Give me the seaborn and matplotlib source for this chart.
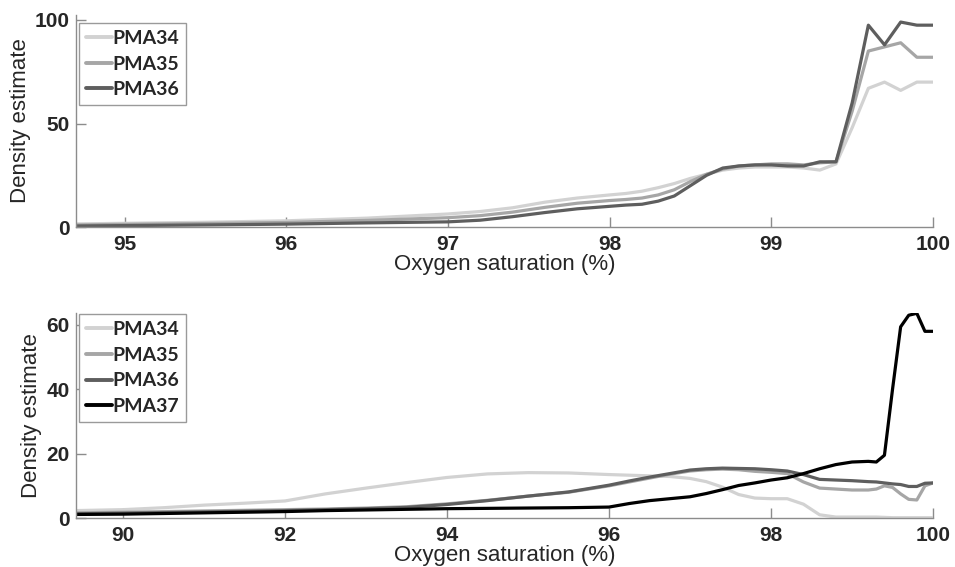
import numpy as np
import pandas as pd
import matplotlib
matplotlib.use("Agg")
import matplotlib.pyplot as plt
import seaborn as sns

# ---------------- data ----------------
top_x = [94.7, 95.0, 95.5, 96.0, 96.5, 97.0, 97.2, 97.4, 97.6, 97.8, 98.0, 98.1, 98.2,
         98.3, 98.4, 98.5, 98.6, 98.7, 98.8, 98.9, 99.0, 99.1, 99.2, 99.3, 99.4, 99.5,
         99.6, 99.7, 99.8, 99.9, 100.0]
top_pma34 = [1.5, 1.8, 2.3, 3.0, 4.3, 6.3, 7.5, 9.3, 12.0, 14.0, 15.5, 16.2, 17.3, 19.0,
             21.0, 23.5, 25.5, 27.5, 28.5, 29.0, 29.0, 29.0, 28.5, 27.5, 30.5, 48.0, 67.0,
             70.0, 66.0, 70.0, 70.0]
top_pma35 = [1.0, 1.3, 1.7, 2.2, 3.2, 4.5, 5.5, 7.2, 9.5, 11.5, 12.8, 13.3, 14.0, 15.5,
             18.0, 22.0, 25.5, 28.0, 29.5, 30.0, 30.5, 30.5, 30.0, 31.0, 31.5, 56.0, 85.0,
             87.0, 89.0, 82.0, 82.0]
top_pma36 = [0.5, 0.7, 1.0, 1.4, 2.0, 2.5, 3.3, 5.0, 7.0, 8.8, 10.0, 10.6, 11.0, 12.5,
             15.0, 20.0, 25.0, 28.5, 29.5, 30.0, 30.0, 29.5, 29.5, 31.5, 31.5, 60.0, 97.5,
             88.0, 99.0, 97.5, 97.5]

bot_x = [89.4, 90.0, 90.5, 91.0, 91.5, 92.0, 92.5, 93.0, 93.5, 94.0, 94.5, 95.0, 95.5,
         96.0, 96.25, 96.5, 96.75, 97.0, 97.2, 97.4, 97.6, 97.8, 98.0, 98.2, 98.4, 98.6,
         98.8, 99.0, 99.2, 99.3, 99.4, 99.5, 99.6, 99.7, 99.8, 99.9, 100.0]
bot_pma34 = [2.3, 2.6, 3.2, 4.0, 4.6, 5.3, 7.5, 9.3, 11.0, 12.6, 13.7, 14.1, 14.0, 13.5,
             13.3, 13.1, 12.9, 12.3, 11.3, 9.6, 7.3, 6.2, 6.0, 6.0, 4.3, 1.0, 0.3, 0.3,
             0.3, 0.3, 0.2, 0.1, 0.1, 0.1, 0.1, 0.1, 0.1]
bot_pma35 = [1.6, 1.8, 2.0, 2.2, 2.4, 2.6, 2.8, 3.1, 3.5, 4.4, 5.5, 6.8, 8.0, 10.0, 11.2,
             12.4, 13.6, 14.6, 15.0, 15.2, 15.0, 14.5, 14.2, 13.8, 11.2, 9.3, 9.0, 8.7,
             8.7, 9.0, 10.0, 9.5, 7.5, 5.8, 5.6, 10.0, 10.9]
bot_pma36 = [1.3, 1.5, 1.7, 1.9, 2.1, 2.3, 2.6, 2.9, 3.3, 4.2, 5.4, 6.8, 8.1, 10.2, 11.5,
             12.7, 13.8, 14.9, 15.3, 15.5, 15.4, 15.3, 15.0, 14.6, 13.5, 12.0, 11.8, 11.6,
             11.3, 11.2, 10.9, 10.6, 10.4, 9.8, 9.8, 10.8, 10.9]
bot_pma37 = [1.1, 1.2, 1.4, 1.6, 1.8, 2.0, 2.3, 2.5, 2.7, 2.9, 3.0, 3.1, 3.2, 3.4, 4.5,
             5.4, 6.0, 6.6, 7.6, 8.8, 10.1, 10.9, 11.8, 12.5, 13.8, 15.3, 16.6, 17.4,
             17.6, 17.4, 19.5, 40.0, 59.4, 63.0, 63.6, 58.0, 58.0]

top_labels = ["PMA34", "PMA35", "PMA36"]
bot_labels = ["PMA34", "PMA35", "PMA36", "PMA37"]
top_xticks = [95, 96, 97, 98, 99, 100]
top_yticks = [0, 50, 100]
bot_xticks = [90, 92, 94, 96, 98, 100]
bot_yticks = [0, 20, 40, 60]

colors = {"PMA34": "#d2d2d2", "PMA35": "#a6a6a6", "PMA36": "#5e5e5e", "PMA37": "#000000"}

# ---------------- build long tables ----------------
def long_df(x, series, labels):
    frames = [pd.DataFrame({"x": x, "y": s, "group": lab}) for s, lab in zip(series, labels)]
    return pd.concat(frames, ignore_index=True)

df_top = long_df(top_x, [top_pma34, top_pma35, top_pma36], top_labels)
df_bot = long_df(bot_x, [bot_pma34, bot_pma35, bot_pma36, bot_pma37], bot_labels)

sns.set_style("white")
plt.rcParams["font.family"] = ["Liberation Sans", "DejaVu Sans"]

fig = plt.figure(figsize=(9.55, 5.67), dpi=100)
ax1 = fig.add_axes([0.0796, 0.5996, 0.8974, 0.3739])
ax2 = fig.add_axes([0.0796, 0.0864, 0.8974, 0.3616])

spine_col = "#8c8c8c"

def style(ax, df, labels, xlim, ylim, xticks, yticks, leg_anchor):
    sns.lineplot(data=df, x="x", y="y", hue="group", hue_order=labels,
                 palette=colors, linewidth=2.3, ax=ax, sort=False, legend=True)
    ax.set_xlim(*xlim)
    ax.set_ylim(*ylim)
    ax.set_xticks(xticks)
    ax.set_yticks(yticks)
    for s in ["top", "right"]:
        ax.spines[s].set_visible(False)
    for s in ["left", "bottom"]:
        ax.spines[s].set_color(spine_col)
        ax.spines[s].set_linewidth(1.0)
    ax.tick_params(direction="in", length=7, width=1.0, color=spine_col,
                   labelsize=15, bottom=True, left=True)
    ax.tick_params(axis="x", pad=5.5)
    ax.tick_params(axis="y", pad=4.5)
    for t in ax.get_xticklabels() + ax.get_yticklabels():
        t.set_fontweight("bold")
    ax.set_xlabel("Oxygen saturation (%)", fontsize=16, labelpad=0.5)
    ax.set_ylabel("Density estimate", fontsize=16, labelpad=3)
    leg = ax.legend(loc="upper left", frameon=True, fancybox=False,
                    bbox_to_anchor=leg_anchor, bbox_transform=fig.transFigure,
                    prop={"family": "Lato", "weight": "bold", "size": 14},
                    handlelength=1.35, handletextpad=0.02, labelspacing=0.45,
                    borderpad=0.35, borderaxespad=0.0)
    leg.get_frame().set_edgecolor("#9a9a9a")
    leg.get_frame().set_linewidth(1.0)
    leg.get_frame().set_alpha(1)
    for h in leg.get_lines():
        h.set_linewidth(2.8)

style(ax1, df_top, top_labels, (94.7, 100), (0, 102.4), top_xticks, top_yticks,
      (79 / 955, 1 - 23 / 567))
style(ax2, df_bot, bot_labels, (89.42, 100), (0, 63.7), bot_xticks, bot_yticks,
      (79 / 955, 1 - 314 / 567))

fig.savefig("out.png", dpi=100)
